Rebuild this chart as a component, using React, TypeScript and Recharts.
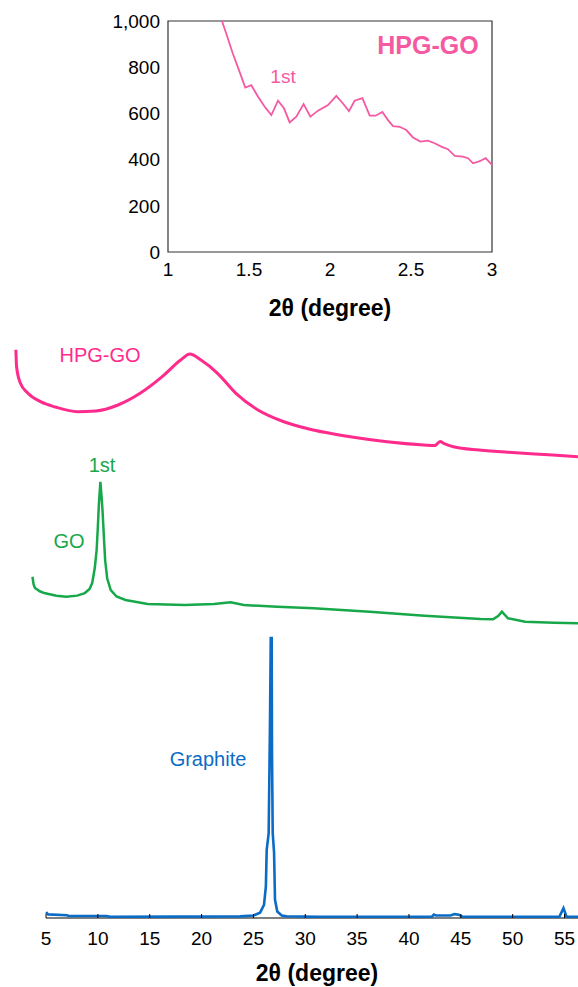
import React from "react"
import {
  LineChart,
  Line,
  XAxis,
  YAxis,
  ReferenceArea,
  ReferenceLine,
} from "recharts"

const FONT = 'Arial, "Liberation Sans", Helvetica, sans-serif'

// inset: low angle scan of HPG-GO
const insetTheta = [
  1.333, 1.36, 1.4, 1.442, 1.477, 1.514, 1.556, 1.597, 1.638, 1.679, 1.716, 1.751, 1.792,
  1.837, 1.879, 1.926, 1.988, 2.039, 2.08, 2.117, 2.152, 2.2, 2.245, 2.282, 2.323, 2.358,
  2.389, 2.43, 2.471, 2.512, 2.558, 2.605, 2.646, 2.687, 2.728, 2.77, 2.82, 2.852, 2.883,
  2.924, 2.961, 3.0,
]
const insetCounts = [
  1000, 945, 859, 780, 712, 722, 672, 629, 593, 655, 622, 561, 586, 640, 586, 612, 636, 676,
  643, 610, 655, 666, 590, 590, 606, 571, 545, 542, 528, 496, 478, 482, 471, 456, 445, 416,
  413, 406, 384, 393, 406, 377,
]
const insetXTicks = [1, 1.5, 2, 2.5, 3]
const insetYTicks = [0, 200, 400, 600, 800, 1000]

// wide scans (arbitrary intensity units, each curve on its own scale)
const hpgTheta = [
  2.09, 2.16, 2.52, 3.23, 4.47, 5.9, 8.03, 9.8, 11.94, 14.07, 16.2, 17.98, 18.87, 19.94,
  21.54, 23.31, 25.44, 27.93, 30.78, 34.33, 37.88, 41.44, 42.5, 43.0, 43.4, 44.29, 46.77,
  50.32, 53.88, 56.3,
]
const hpgIntensity = [
  104, 88, 72.6, 63.2, 55, 50, 45.6, 46.2, 51.9, 62.9, 78.6, 94.3, 100, 94.3, 81.8, 62.9,
  47.2, 36.1, 28.3, 22, 17.3, 14.2, 13.6, 17.4, 15.5, 12.5, 9.4, 6.9, 4.7, 3.1,
]

const goTheta = [
  3.69, 3.8, 3.93, 4.4, 4.82, 6.0, 6.96, 8.0, 8.74, 9.2, 9.45, 9.7, 9.88, 10.0, 10.1, 10.24,
  10.35, 10.45, 10.6, 10.7, 10.9, 11.24, 11.8, 12.66, 14.8, 18.37, 21.2, 22.8, 24.07, 27.3,
  30.8, 36.2, 41.5, 46.9, 48.1, 48.6, 48.96, 49.55, 51.2, 54.0, 56.3,
]
const goIntensity = [
  36.2, 31, 28.7, 26.5, 25.3, 23.5, 22.9, 23.6, 25.3, 28, 32, 42, 54, 70, 85, 99.5, 90, 80,
  60, 47.3, 35, 27.3, 23, 20.7, 18, 17.3, 18, 19.1, 17.3, 16.2, 15.1, 12.9, 10.2, 8, 7.8,
  10, 12.9, 8.5, 6.2, 5.5, 5.1,
]

const graphiteTheta = [
  5.0, 5.2, 7.0, 7.2, 10.8, 11.2, 23.7, 25.0, 25.64, 26.02, 26.2, 26.28, 26.47, 26.6, 26.67,
  26.76, 26.79, 26.86, 26.99, 27.08, 27.3, 27.73, 28.2, 31.3, 42.2, 42.4, 42.6, 44.0, 44.4,
  44.8, 45.2, 54.5, 54.9, 55.2, 56.3,
]
const graphiteIntensity = [
  1.7, 0.9, 0.6, 0.3, 0.3, 0, 0.2, 0.5, 1.5, 4.3, 10.9, 24, 30, 70.6, 100, 100, 58.8, 30,
  23, 6.1, 1.9, 0.5, 0.2, 0, 0, 0.8, 0.5, 0.5, 1.0, 0.8, 0, 0, 3.1, 0, 0,
]
const wideXTicks = [5, 10, 15, 20, 25, 30, 35, 40, 45, 50, 55]

const zip = (xs: number[], ys: number[]) => xs.map((x, i) => ({ x, y: ys[i] }))

const insetData = zip(insetTheta, insetCounts)
const hpgData = zip(hpgTheta, hpgIntensity)
const goData = zip(goTheta, goIntensity)
const graphiteData = zip(graphiteTheta, graphiteIntensity)

const PINK_INSET = "#f45aa2"
const PINK = "#ff2b8c"
const GREEN = "#17a84a"
const BLUE = "#0b6cc6"

const WideTick = (props: any) => {
  const { x, y, payload } = props
  return (
    <g>
      <line x1={x} y1={y} x2={x} y2={y - 4} stroke="#000" strokeWidth={1} />
      <text x={x} y={y + 27} textAnchor="middle" fontSize={19} fontFamily={FONT} fill="#000">
        {payload.value}
      </text>
    </g>
  )
}

const label = (
  text: string,
  left: number,
  top: number,
  color: string,
  size = 20,
  bold = false
) => (
  <div
    style={{
      position: "absolute",
      left,
      top,
      transform: "translate(-50%, -50%)",
      color,
      fontSize: size,
      fontWeight: bold ? 700 : 400,
      fontFamily: FONT,
      whiteSpace: "nowrap",
      lineHeight: 1,
    }}
  >
    {text}
  </div>
)

export default function App() {
  return (
    <div
      style={{
        position: "absolute",
        left: 0,
        top: 0,
        width: 578,
        height: 987,
        background: "#fff",
        overflow: "hidden",
        fontFamily: FONT,
      }}
    >
      <div style={{ position: "absolute", left: 0, top: 0 }}>
        <LineChart
          width={578}
          height={330}
          data={insetData}
          margin={{ top: 21, right: 86, left: 0, bottom: 48 }}
        >
          <XAxis
            dataKey="x"
            type="number"
            domain={[1, 3]}
            ticks={insetXTicks}
            axisLine={false}
            tickLine={false}
            tickSize={0}
            tickMargin={11}
            height={30}
            tick={{ fontSize: 19, fill: "#000", fontFamily: FONT }}
          />
          <YAxis
            type="number"
            domain={[0, 1000]}
            ticks={insetYTicks}
            width={168}
            axisLine={false}
            tickLine={false}
            tickSize={0}
            tickMargin={8}
            tickFormatter={(v: number) => v.toLocaleString("en-US")}
            tick={{ fontSize: 19, fill: "#000", fontFamily: FONT }}
          />
          <ReferenceArea
            x1={1}
            x2={3}
            y1={0}
            y2={1000}
            fill="none"
            stroke="#333"
            strokeWidth={1.2}
          />
          <Line
            dataKey="y"
            stroke={PINK_INSET}
            strokeWidth={1.8}
            dot={false}
            type="linear"
            isAnimationActive={false}
          />
        </LineChart>
      </div>
      {label("HPG-GO", 428, 45, PINK_INSET, 25, true)}
      {label("1st", 283, 76, PINK_INSET, 19)}
      {label("2θ (degree)", 330, 308, "#000", 23, true)}

      <div style={{ position: "absolute", left: 0, top: 330 }}>
        <LineChart width={578} height={657} margin={{ top: 10, right: 0, left: 0, bottom: 0 }}>
          <XAxis
            dataKey="x"
            type="number"
            domain={[0.56, 56.3]}
            ticks={wideXTicks}
            axisLine={false}
            tickLine={false}
            tickSize={0}
            tickMargin={0}
            height={69}
            tick={<WideTick />}
            allowDataOverflow
          />
          <YAxis yAxisId="hpg" type="number" domain={[-432, 113.2]} hide allowDataOverflow />
          <YAxis yAxisId="go" type="number" domain={[-191.3, 194]} hide allowDataOverflow />
          <YAxis yAxisId="gr" type="number" domain={[-0.4, 206.8]} hide allowDataOverflow />
          <ReferenceLine
            yAxisId="gr"
            segment={[
              { x: 5, y: -0.4 },
              { x: 56.3, y: -0.4 },
            ]}
            stroke="#000"
            strokeWidth={1.2}
          />
          <Line
            yAxisId="hpg"
            data={hpgData}
            dataKey="y"
            stroke={PINK}
            strokeWidth={3}
            dot={false}
            type="monotone"
            isAnimationActive={false}
          />
          <Line
            yAxisId="go"
            data={goData}
            dataKey="y"
            stroke={GREEN}
            strokeWidth={2.5}
            dot={false}
            type="linear"
            isAnimationActive={false}
          />
          <Line
            yAxisId="gr"
            data={graphiteData}
            dataKey="y"
            stroke={BLUE}
            strokeWidth={2.6}
            dot={false}
            type="linear"
            isAnimationActive={false}
          />
        </LineChart>
      </div>
      {label("HPG-GO", 100, 355, PINK, 20)}
      {label("1st", 102, 465, GREEN, 20)}
      {label("GO", 69, 541, GREEN, 20)}
      {label("Graphite", 208, 759, BLUE, 20)}
      {label("2θ (degree)", 317, 973, "#000", 23, true)}
    </div>
  )
}
